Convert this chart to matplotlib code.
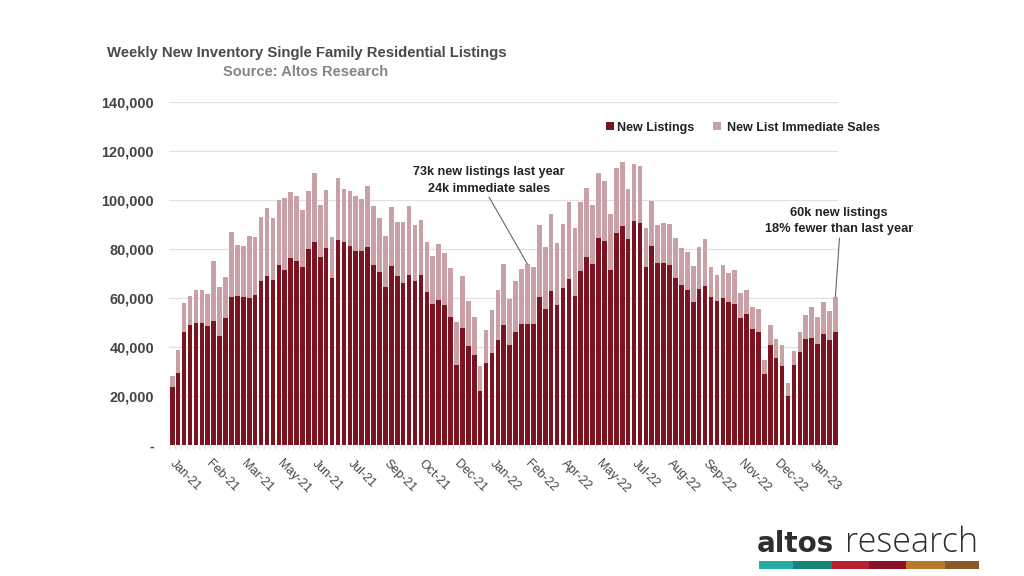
"""Weekly new inventory chart, stacked weekly bars with logo block."""
import matplotlib
matplotlib.use("Agg")
import matplotlib.pyplot as plt
from matplotlib.patches import Rectangle
import numpy as np

# values in thousands
new_listings = [
    23.7, 29.5, 46.3, 49.1, 49.7, 49.8, 48.4, 50.6, 44.6, 52.0, 60.4, 61.0, 60.3, 60.0, 61.4, 66.9,
    69.1, 67.2, 73.3, 71.3, 76.2, 75.1, 72.8, 80.0, 83.0, 76.9, 80.4, 68.3, 83.8, 82.9, 81.1, 79.2,
    79.2, 81.0, 73.5, 70.7, 64.4, 73.2, 68.8, 66.3, 69.5, 67.1, 69.2, 62.4, 57.5, 59.2, 57.0, 52.1,
    32.7, 47.8, 40.5, 36.6, 22.2, 33.6, 37.5, 43.0, 49.1, 41.0, 46.0, 49.3, 49.4, 49.5, 60.4, 55.6,
    62.9, 57.1, 64.1, 67.8, 60.7, 71.2, 76.9, 73.7, 84.5, 83.4, 71.3, 86.7, 89.2, 84.2, 91.6, 90.5,
    72.7, 81.1, 74.1, 74.1, 73.5, 68.2, 65.4, 63.4, 58.4, 63.7, 65.0, 60.3, 58.6, 60.1, 58.4, 57.5,
    52.0, 53.3, 47.5, 46.3, 28.8, 40.7, 35.5, 32.1, 20.1, 32.8, 38.0, 43.1, 43.7, 41.4, 45.2, 42.9,
    46.0,
]
immediate_sales = [
    4.4, 9.4, 11.7, 11.8, 13.5, 13.6, 13.3, 24.4, 19.9, 16.7, 26.7, 20.7, 21.1, 25.3, 23.4, 26.3,
    27.5, 25.3, 26.5, 29.5, 26.9, 26.7, 23.1, 23.8, 28.0, 21.2, 23.8, 16.5, 25.3, 21.6, 22.6, 22.6,
    21.1, 24.8, 24.1, 21.9, 21.0, 23.8, 22.2, 24.6, 28.2, 22.6, 22.6, 20.5, 19.7, 22.9, 21.5, 20.1,
    17.4, 21.1, 18.2, 15.8, 9.9, 13.5, 17.8, 20.4, 24.8, 18.5, 21.1, 22.6, 24.4, 23.3, 29.3, 25.2,
    31.2, 25.2, 26.0, 31.4, 28.0, 27.9, 28.2, 24.1, 26.4, 24.5, 23.0, 26.4, 26.3, 20.4, 23.0, 23.5,
    15.9, 18.5, 15.8, 16.7, 16.9, 16.2, 15.1, 15.5, 14.7, 17.1, 18.9, 12.4, 10.7, 13.3, 11.6, 13.9,
    10.1, 9.9, 9.0, 9.4, 6.0, 8.4, 7.6, 8.6, 5.3, 5.7, 8.3, 10.1, 12.7, 11.0, 13.2, 11.8,
    14.3,
]
month_labels = ["Jan-21", "Feb-21", "Mar-21", "May-21", "Jun-21", "Jul-21", "Sep-21", "Oct-21", "Dec-21", "Jan-22",
                "Feb-22", "Apr-22", "May-22", "Jul-22", "Aug-22", "Sep-22", "Nov-22", "Dec-22", "Jan-23"]
y_ticks = [0, 20000, 40000, 60000, 80000, 100000, 120000, 140000]
logo_colors = ["#23AE9F", "#17857A", "#B8202F", "#8B1226", "#B87A2A", "#8A5A26"]
logo_edges = [759, 793, 832, 869, 906, 945, 979]

W, H = 1024, 576
DARK = "#7B1420"
LIGHT = "#C9A0A5"
FONT = "Liberation Sans"

plt.rcParams["font.family"] = [FONT, "DejaVu Sans"]


def fx(x):
    return x / W


def fy(y):
    return 1 - y / H


def add_box(left, top, width, height, color):
    fig.add_artist(Rectangle((fx(left), fy(top + height)), width / W, height / H,
                             transform=fig.transFigure, facecolor=color, edgecolor="none"))


fig = plt.figure(figsize=(W / 100, H / 100), dpi=100, facecolor="white")
ax = fig.add_axes([fx(169.3), fy(445), (838.3 - 169.3) / W, (445 - 102) / H])

new = np.array(new_listings) * 1000
sales = np.array(immediate_sales) * 1000
x = np.arange(len(new))
ax.bar(x, new, width=0.78, color=DARK, label="New Listings", zorder=3)
ax.bar(x, sales, width=0.78, bottom=new, color=LIGHT, label="New List Immediate Sales", zorder=3)

ax.set_xlim(-0.5, len(new) - 0.5)
ax.set_ylim(0, 140000)
ax.set_yticks(y_ticks)
ax.set_yticklabels(["-"] + [f"{v:,}" for v in y_ticks[1:]], fontsize=10.4, color="#444444", fontweight="bold")
ax.tick_params(axis="y", length=0, pad=11)
ax.grid(axis="y", color="#E4E0E0", lw=0.9, zorder=0)
ax.set_axisbelow(True)
for s in ax.spines.values():
    s.set_visible(False)

# small ticks between every bar, labels every six weeks
ax.set_xticks(x - 0.5, minor=True)
ax.tick_params(axis="x", which="minor", length=3, color="#E4E0E0", width=0.8)
label_pos = np.arange(len(month_labels)) * 6
ax.set_xticks(label_pos)
ax.set_xticklabels(month_labels, rotation=-45, ha="left", va="center", rotation_mode="anchor",
                   fontsize=9, color="#444444")
ax.tick_params(axis="x", which="major", length=0, pad=12)

fig.text(fx(107), fy(53), "Weekly New Inventory Single Family Residential Listings", fontsize=10.7,
         fontweight="bold", color="#4A4A4A", ha="left", va="center")
fig.text(fx(306), fy(72), "Source: Altos Research", fontsize=10.5, fontweight="bold", color="#858585",
         ha="center", va="center")

# legend by hand, the two entries sit on one baseline this way
add_box(606, 122, 8, 8, DARK)
add_box(713, 122, 8, 8, LIGHT)
fig.text(fx(617), fy(131), "New Listings", fontsize=9, fontweight="bold", color="#222222", va="baseline")
fig.text(fx(727), fy(131), "New List Immediate Sales", fontsize=9, fontweight="bold", color="#222222", va="baseline")

fig.text(fx(489), fy(180.5), "73k new listings last year\n24k immediate sales", fontsize=9.1, fontweight="bold",
         color="#222222", ha="center", va="center", linespacing=1.45)
fig.text(fx(839), fy(221), "60k new listings\n18% fewer than last year", fontsize=9.2, fontweight="bold",
         color="#222222", ha="center", va="center", linespacing=1.35)

tot = new + sales
line_kw = dict(arrowstyle="-", color="#666666", lw=0.8, shrinkA=0, shrinkB=0)
ax.annotate("", xy=(60, tot[60]), xytext=(fx(489), fy(197)), textcoords="figure fraction",
            arrowprops=line_kw, annotation_clip=False, zorder=5)
ax.annotate("", xy=(112, tot[112]), xytext=(fx(839.5), fy(238)), textcoords="figure fraction",
            arrowprops=line_kw, annotation_clip=False, zorder=5)

# logo block
fig.text(fx(757), fy(552), "altos", fontsize=20, fontweight="bold", family="DejaVu Sans", color="#2E2E2E",
         ha="left", va="baseline")
fig.text(fx(845), fy(552), "research", fontsize=24.6, fontweight="light", family="Open Sans", color="#2E2E2E",
         ha="left", va="baseline")
for c, a, b in zip(logo_colors, logo_edges[:-1], logo_edges[1:]):
    add_box(a, 560.5, b - a, 8, c)

fig.savefig("out.png", dpi=100)
